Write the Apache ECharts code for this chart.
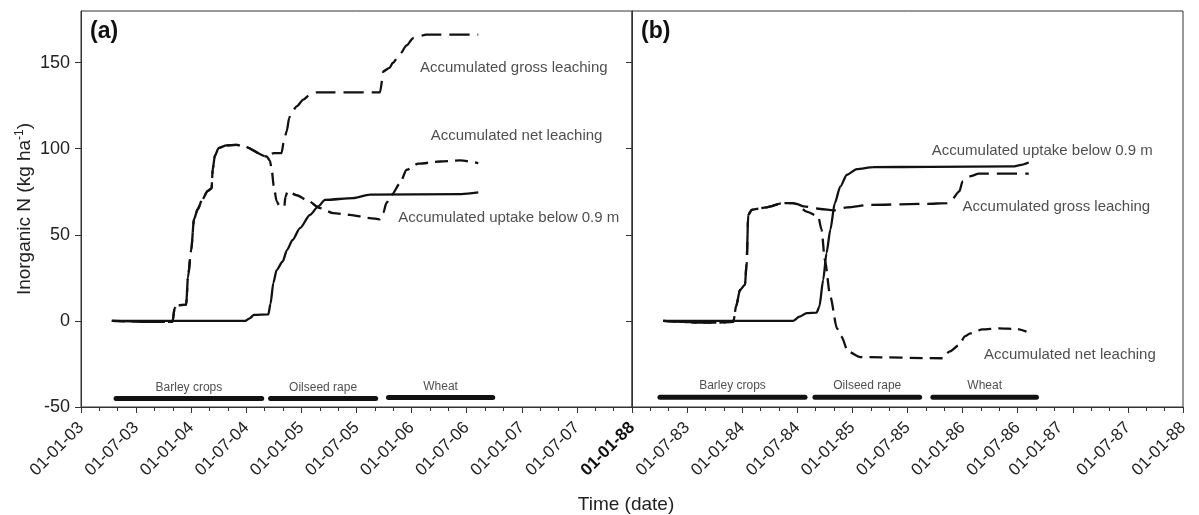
<!DOCTYPE html>
<html>
<head>
<meta charset="utf-8">
<script src="https://cdn.jsdelivr.net/npm/echarts@6/dist/echarts.min.js"></script>
<style>
  html, body { margin: 0; padding: 0; background: #fff; }
  #chart { width: 1199px; height: 515px; }
</style>
</head>
<body>
<div id="chart"></div>
<script>
// panel (a): 2003-2008, time as decimal years
const uptakeTimeA = [2003.28, 2004.49, 2004.53, 2004.57, 2004.70, 2004.72, 2004.745, 2004.775, 2004.83, 2004.87, 2004.92, 2004.987, 2005.078, 2005.153, 2005.214, 2005.47, 2005.62, 2006.45, 2006.605];
const uptakeA = [0, 0, 1.5, 3.5, 3.8, 10, 22, 29.5, 34.5, 41.3, 47, 53.9, 61.6, 66.5, 70.3, 71.3, 73.3, 73.6, 74.6];

// gross and net leaching share the same path until mid 2004
const leachTimeA = [2003.28, 2003.6, 2003.83, 2003.85, 2003.87, 2003.955, 2003.97, 2004.0, 2004.025, 2004.06, 2004.1, 2004.15, 2004.185, 2004.195, 2004.215, 2004.25, 2004.32, 2004.41, 2004.47, 2004.685];
const leachA = [0, -0.5, -0.5, 7.5, 9, 9.5, 25, 41, 59, 65, 70.5, 75.5, 77, 88, 96, 100.5, 102, 102.3, 101.5, 95.5];

const grossTimeA = [2004.75, 2004.82, 2004.84, 2004.866, 2004.89, 2004.91, 2004.957, 2005.017, 2005.078, 2005.14, 2005.713, 2005.745, 2005.80, 2005.83, 2005.895, 2005.955, 2006.015, 2006.137, 2006.605];
const grossA = [97.5, 97.5, 104, 110, 118, 121, 124.6, 128.5, 131.4, 132.7, 132.7, 145, 147, 150, 155, 160, 164.3, 166.3, 166.3];

const netTimeA = [2004.715, 2004.73, 2004.75, 2004.775, 2004.80, 2004.845, 2004.855, 2004.875, 2004.957, 2005.048, 2005.169, 2005.29, 2005.44, 2005.62, 2005.713, 2005.745, 2005.77, 2005.82, 2005.895, 2005.955, 2006.061, 2006.258, 2006.44, 2006.605];
const netA = [93, 88, 78, 69.5, 67, 66.5, 72, 75.2, 73, 70.3, 65.5, 62.6, 61.6, 59.7, 59, 63, 68.4, 73.3, 80, 87.8, 91.3, 92.6, 93.2, 91.7];

// panel (b): 1983-1988
const uptakeTimeB = [1983.284, 1984.46, 1984.52, 1984.585, 1984.675, 1984.70, 1984.735, 1984.765, 1984.80, 1984.84, 1984.89, 1984.95, 1985.04, 1985.19, 1985.71, 1986.46, 1986.52, 1986.60];
const uptakeB = [0, 0, 2.5, 4.5, 4.8, 8.3, 23.8, 39.4, 53, 68.4, 78, 84.9, 88.2, 89.3, 89.5, 89.7, 90.5, 92];

const leachTimeB = [1983.284, 1983.45, 1983.6, 1983.8, 1983.92, 1983.944, 1983.98, 1984.025, 1984.04, 1984.055, 1984.086, 1984.22, 1984.37, 1984.46, 1984.49];
const leachB = [0, -0.5, -1, -1, -0.5, 8.3, 18, 21, 33.5, 61.6, 64.5, 66, 68.4, 68.4, 68];

const grossTimeB = [1984.56, 1984.71, 1984.83, 1984.95, 1985.16, 1985.67, 1985.86, 1985.9, 1985.97, 1986.0, 1986.06, 1986.15, 1986.6];
const grossB = [66.5, 65, 64.2, 66, 67.4, 68, 68.4, 70.3, 75.2, 81, 83.9, 85.5, 85.5];

const netTimeB = [1984.585, 1984.69, 1984.72, 1984.75, 1984.80, 1984.86, 1984.9, 1984.96, 1985.07, 1985.82, 1985.88, 1985.97, 1986.02, 1986.07, 1986.18, 1986.33, 1986.49, 1986.58];
const netB = [63.5, 60.6, 53, 35.5, 14, -4.3, -9, -17.8, -21, -21.7, -17.8, -14, -9, -7.2, -4.9, -4.3, -4.7, -6.2];

// crop periods, drawn as thick bars near the bottom
const cropNames = ['Barley crops', 'Oilseed rape', 'Wheat'];
const cropStartA = [2003.318, 2004.72, 2005.79];
const cropEndA = [2004.64, 2005.674, 2006.736];
const cropLevelA = [-45, -45, -44.5];
const cropStartB = [1983.254, 1984.66, 1985.73];
const cropEndB = [1984.57, 1985.61, 1986.67];
const cropLevelB = [-44.3, -44.3, -44.3];

// curve labels
const curveNamesA = ['Accumulated gross leaching', 'Accumulated net leaching', 'Accumulated uptake below 0.9 m'];
const curveNamesB = ['Accumulated uptake below 0.9 m', 'Accumulated gross leaching', 'Accumulated net leaching'];

// tick labels
const yTicks = [-50, 0, 50, 100, 150];
const xLabelsA = ['01-01-03', '01-07-03', '01-01-04', '01-07-04', '01-01-05', '01-07-05', '01-01-06', '01-07-06', '01-01-07', '01-07-07', ''];
const xLabelsB = ['01-01-88', '01-07-83', '01-01-84', '01-07-84', '01-01-85', '01-07-85', '01-01-86', '01-07-86', '01-01-87', '01-07-87', '01-01-88'];

const FONT = '"Liberation Sans", Arial, Helvetica, sans-serif';
const INK = '#111';

const zip = (xs, ys) => xs.map((x, i) => [x, ys[i]]);

// where the curve labels sit (data coordinates, left edge of text)
const curveLabelPosA = [[2006.076, 146.9], [2006.173, 107.2], [2005.879, 59.7]];
const curveLabelPosB = [[1985.72, 99], [1986.0, 66.1], [1986.194, -19.8]];

function curve(idx, data, dash) {
  return {
    type: 'line', xAxisIndex: idx, yAxisIndex: idx, data: data,
    showSymbol: false, smooth: 0.25, smoothMonotone: 'x',
    lineStyle: { color: INK, width: 2.3, type: dash || 'solid' },
    silent: true, z: 3
  };
}

function cropSeries(idx, starts, ends, levels) {
  const out = [];
  starts.forEach((s, i) => {
    out.push({
      type: 'line', xAxisIndex: idx, yAxisIndex: idx,
      data: [[s, levels[i]], [ends[i], levels[i]]],
      showSymbol: false,
      lineStyle: { color: INK, width: 5, cap: 'round' },
      silent: true
    });
  });
  out.push({
    type: 'scatter', xAxisIndex: idx, yAxisIndex: idx, symbolSize: 0,
    data: starts.map((s, i) => ({ name: cropNames[i], value: [(s + ends[i]) / 2, levels[i]] })),
    label: { show: true, position: 'top', distance: 5, formatter: '{b}', color: '#222', fontSize: 12, fontFamily: FONT },
    silent: true
  });
  return out;
}

function curveLabels(idx, names, pos) {
  return {
    type: 'scatter', xAxisIndex: idx, yAxisIndex: idx, symbolSize: 0,
    data: names.map((n, i) => ({ name: n, value: pos[i] })),
    label: { show: true, position: 'right', distance: 0, formatter: '{b}', color: '#222', fontSize: 15, fontFamily: FONT },
    silent: true
  };
}

function xAxis(idx, min, labels) {
  return {
    type: 'value', gridIndex: idx, min: min, max: min + 5, interval: 0.5,
    axisLine: { onZero: false, lineStyle: { color: '#333', width: 1 } },
    axisTick: { length: 6, lineStyle: { color: '#333' } },
    minorTick: { show: true, splitNumber: 3, length: 4, lineStyle: { color: '#333' } },
    splitLine: { show: false },
    axisLabel: {
      rotate: 45, margin: 18, color: '#222', fontSize: 17, fontFamily: FONT,
      formatter: v => {
        const i = Math.round((v - min) / 0.5);
        const t = labels[i] || '';
        if (idx === 1 && i === 0) return '{b|' + t + '}';
        if (idx === 1 && i === 8) return '{s|' + t + '}';  // this one sits a little left in the original
        return t;
      },
      rich: {
        b: { fontWeight: 'bold', fontSize: 17, fontFamily: FONT, color: '#111' },
        s: { fontSize: 17, fontFamily: FONT, color: '#222', padding: [0, 9, 18, 0] }
      }
    }
  };
}

function yAxis(idx, withLabels) {
  return {
    type: 'value', gridIndex: idx, min: -50, max: 180,
    axisLine: { show: true, onZero: false, lineStyle: { color: '#333', width: 1 } },
    axisTick: { show: true, length: 6, customValues: yTicks, lineStyle: { color: '#333' } },
    splitLine: { show: false },
    axisLabel: withLabels
      ? { show: true, customValues: yTicks, margin: 11, color: '#222', fontSize: 18, fontFamily: FONT }
      : { show: false },
    name: withLabels ? '{a|Inorganic N (kg ha}{s|-1}{a|)}' : '',
    nameLocation: 'middle', nameGap: 45,
    nameTextStyle: {
      rich: {
        a: { fontSize: 19, fontFamily: FONT, color: '#222', lineHeight: 22 },
        s: { fontSize: 12, fontFamily: FONT, color: '#222', verticalAlign: 'top', lineHeight: 22 }
      }
    }
  };
}

const chart = echarts.init(document.getElementById('chart'), null, { renderer: 'canvas' });

const option = {
  animation: false,
  backgroundColor: '#fff',
  grid: [
    { left: 81, top: 11, width: 551, height: 396, show: true, borderColor: '#333', borderWidth: 1, containLabel: false },
    { left: 632, top: 11, width: 551, height: 396, show: true, borderColor: '#333', borderWidth: 1, containLabel: false }
  ],
  xAxis: [xAxis(0, 2003, xLabelsA), xAxis(1, 1983, xLabelsB)],
  yAxis: [yAxis(0, true), yAxis(1, false)],
  graphic: [
    { type: 'text', left: 90, top: 20, style: { text: '(a)', font: 'bold 23px ' + FONT, fill: '#111' } },
    { type: 'text', left: 641, top: 20, style: { text: '(b)', font: 'bold 23px ' + FONT, fill: '#111' } },
    { type: 'text', x: 626, y: 505, style: { text: 'Time (date)', font: '19px ' + FONT, fill: '#222', textAlign: 'center', textVerticalAlign: 'middle' } }
  ],
  series: [
    curve(0, zip(uptakeTimeA, uptakeA)),
    curve(0, zip(leachTimeA, leachA).concat(zip(grossTimeA, grossA)), [20, 8]),
    curve(0, zip(leachTimeA, leachA).concat(zip(netTimeA, netA)), [13, 7]),
    curve(1, zip(uptakeTimeB, uptakeB)),
    curve(1, zip(leachTimeB, leachB).concat(zip(grossTimeB, grossB)), [20, 8]),
    curve(1, zip(leachTimeB, leachB).concat(zip(netTimeB, netB)), [13, 7]),
    curveLabels(0, curveNamesA, curveLabelPosA),
    curveLabels(1, curveNamesB, curveLabelPosB)
  ].concat(cropSeries(0, cropStartA, cropEndA, cropLevelA), cropSeries(1, cropStartB, cropEndB, cropLevelB))
};

chart.setOption(option);
</script>
</body>
</html>
